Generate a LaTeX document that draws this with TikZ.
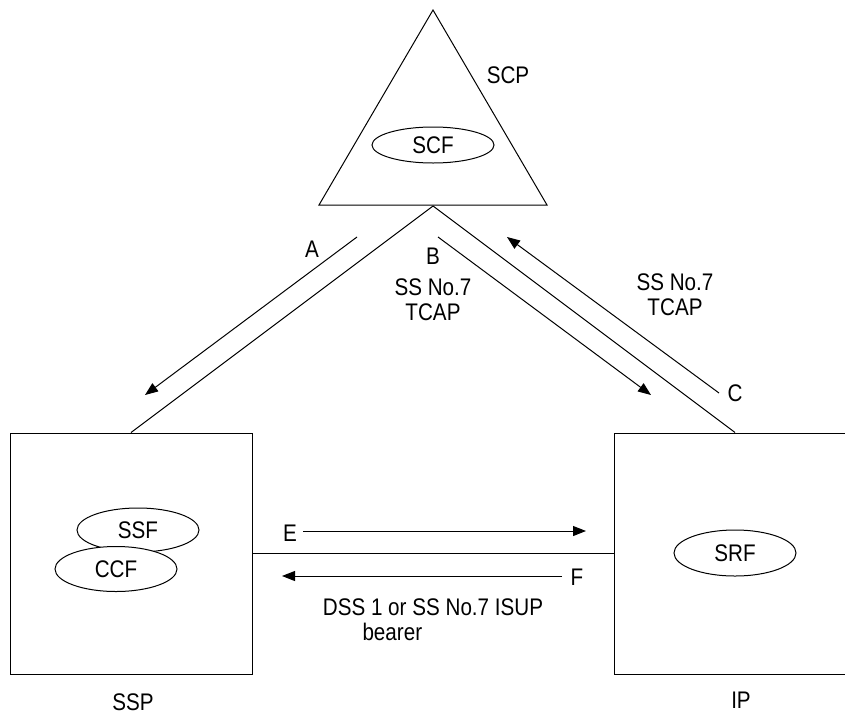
\documentclass[tikz,border=0pt]{standalone}
\usepackage{fontspec}
\setmainfont{Liberation Sans}[FakeStretch=0.86]
\usepackage{tikz}
\usetikzlibrary{shapes, arrows.meta, positioning}
\tikzstyle{box} = [rectangle, draw, minimum width=242pt, minimum height=241pt, inner sep=0pt]
\tikzstyle{fn} = [ellipse, draw, fill=white, minimum width=122pt, inner sep=0pt]
\tikzstyle{lbl} = [inner sep=0pt, align=center]
\tikzstyle{line} = [draw]
\tikzstyle{msg} = [draw, -{Triangle[length=13pt, width=10pt]}]

\begin{document}
\begin{tikzpicture}[x=1pt, y=-1pt, line width=1pt, font=\fontsize{24}{25}\selectfont]
			\useasboundingbox (0,0) rectangle (845,715);

			% SCP triangle
			\coordinate (top) at (433, 10);
			\coordinate (bl) at (319, 205);
			\coordinate (br) at (547, 205);
			\coordinate (scp) at (433, 206);
			\path [line] (top) -- (br) -- (bl) -- cycle;
			\node [fn, minimum height=36pt] (scf) at (433, 145) {SCF};
			\node [lbl] (scplbl) at (508, 75) {SCP};

			% SSP and IP
			\node [box] (ssp) at (131, 553.5) {};
			\node [box] (ip) at (735, 553.5) {};
			\node [fn, minimum height=44pt] (ssf) at (138, 530) {SSF};
			\node [fn, minimum height=45pt] (ccf) at (116, 569) {CCF};
			\node [fn, minimum height=46pt] (srf) at (735, 553) {SRF};
			\node [lbl] (ssplbl) at (133, 702) {SSP};
			\node [lbl] (iplbl) at (741, 700) {IP};

			\path [line] (scp) -- (ssp.north);
			\path [line] (scp) -- (ip.north);
			\path [line] (ssp.east) -- (ip.west);

			% signalling
			\coordinate (a1) at (357, 237);
			\coordinate (a2) at (145, 395);
			\coordinate (b1) at (438, 237);
			\coordinate (b2) at (651, 395);
			\coordinate (c1) at (719, 393);
			\coordinate (c2) at (507, 237);
			\coordinate (e1) at (303, 531);
			\coordinate (e2) at (586, 531);
			\coordinate (f1) at (562, 576);
			\coordinate (f2) at (282, 576);
			\path [msg] (a1) -- (a2);
			\path [msg] (b1) -- (b2);
			\path [msg] (c1) -- (c2);
			\path [msg] (e1) -- (e2);
			\path [msg] (f1) -- (f2);

			\node [lbl] (alb) at (312, 249) {A};
			\node [lbl] (blb) at (433, 256) {B};
			\node [lbl] (bprot) at (433, 300) {SS No.7\\TCAP};
			\node [lbl] (cprot) at (675, 295) {SS No.7\\TCAP};
			\node [lbl] (clb) at (735, 393) {C};
			\node [lbl] (elb) at (290, 533) {E};
			\node [lbl] (flb) at (577, 577) {F};
			\node [lbl] (dss) at (433, 607) {DSS 1 or SS No.7 ISUP};
			\node [lbl, anchor=west] (bearer) at (362, 632) {bearer};
		\end{tikzpicture}
\end{document}
